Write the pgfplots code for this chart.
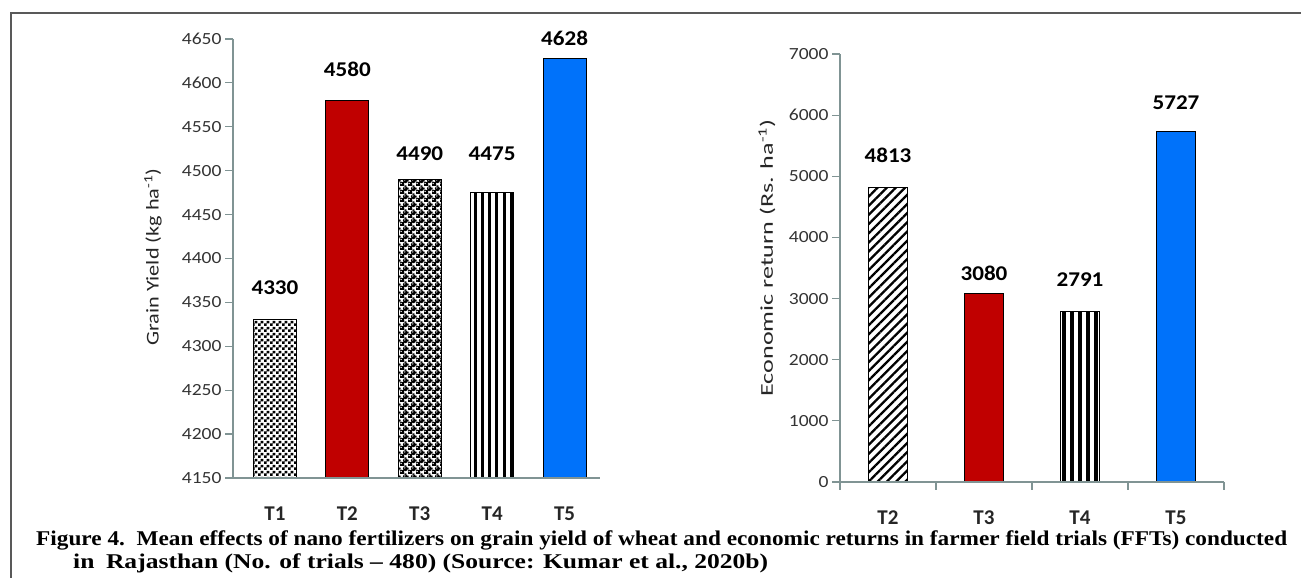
\documentclass[border=0pt]{standalone}
\usepackage{pgfplots}
\pgfplotsset{compat=1.18}
\usepackage{graphicx}
\usepackage{fontspec}
\setmainfont{Carlito}
\newfontfamily\capfont{Liberation Serif}
\usetikzlibrary{patterns,patterns.meta}

\definecolor{axgray}{RGB}{128,148,148}
\definecolor{barred}{RGB}{192,0,0}
\definecolor{barblue}{RGB}{0,114,250}

% small checks (T1)
\pgfdeclarepatternformonly{checks}{\pgfqpoint{0bp}{0bp}}{\pgfqpoint{6bp}{6bp}}{\pgfqpoint{6bp}{6bp}}{%
  \pgfpathrectangle{\pgfqpoint{0bp}{0bp}}{\pgfqpoint{3.05bp}{3.05bp}}%
  \pgfpathrectangle{\pgfqpoint{3bp}{3bp}}{\pgfqpoint{3.05bp}{3.05bp}}%
  \pgfusepath{fill}}
% spheres (T3)
\pgfdeclarepatternformonly{spheres}{\pgfqpoint{0bp}{0bp}}{\pgfqpoint{8bp}{8bp}}{\pgfqpoint{8bp}{8bp}}{%
  \pgfpathcircle{\pgfqpoint{2bp}{2bp}}{2.8bp}%
  \pgfpathcircle{\pgfqpoint{6bp}{6bp}}{2.8bp}%
  \pgfpathcircle{\pgfqpoint{-2bp}{6bp}}{2.8bp}%
  \pgfpathcircle{\pgfqpoint{6bp}{-2bp}}{2.8bp}%
  \pgfusepath{fill}}
\pgfdeclarepatternformonly{shine}{\pgfqpoint{0bp}{0bp}}{\pgfqpoint{8bp}{8bp}}{\pgfqpoint{8bp}{8bp}}{%
  \pgfpathcircle{\pgfqpoint{1.3bp}{2.8bp}}{0.8bp}%
  \pgfpathcircle{\pgfqpoint{5.3bp}{6.8bp}}{0.8bp}%
  \pgfusepath{fill}}

\pgfplotsset{
  barlab/.style={
    nodes near coords={\scalebox{1.1}[1]{\bfseries\pgfmathprintnumber[assume math mode=true,1000 sep={}]{\pgfplotspointmeta}}},
    nodes near coords style={anchor=base, yshift=#1bp, inner sep=0pt,
      font=\fontsize{21bp}{21bp}\selectfont, text=black},
  },
  mybar/.style={draw=black, line width=1bp, bar shift=0pt},
  chart/.style={
    scale only axis, anchor=south west,
    ybar, bar shift=0pt,
    axis x line*=bottom, axis y line*=left,
    axis line style={axgray, line width=1.2bp, -},
    tick align=outside, major tick length=8bp, minor tick length=8bp,
    major x tick style={draw=none},
    y tick style={axgray, line width=1.2bp},
    yticklabel style={font=\fontsize{17bp}{17bp}\selectfont, text=black!80,
      /pgf/number format/assume math mode=true, /pgf/number format/1000 sep={}},
    yticklabel={\scalebox{1.15}[1]{\pgfmathprintnumber{\tick}}},
    xticklabel style={font=\bfseries\fontsize{21bp}{21bp}\selectfont, text=black!85,
      anchor=base, yshift=-34bp},
    axis on top,
  },
}

\begin{document}
\begin{tikzpicture}
\useasboundingbox (0,0) rectangle (1301bp,578bp);

% frame of the page
\draw[black!65, line width=1.2bp] (11bp,0bp) -- (11bp,565bp) -- (1301bp,565bp);

% left: grain yield
\begin{axis}[chart,
  at={(233bp,100bp)}, width=367bp, height=439bp,
  bar width=43bp,
  xmin=0.42, xmax=5.49, ymin=4150, ymax=4650, ytick distance=50,
  xtick={1,2,3,4,5}, xticklabels={T1,T2,T3,T4,T5},
]
\addplot[mybar, pattern=checks, barlab=25] coordinates {(1,4330)};
\addplot[mybar, fill=barred, barlab=24] coordinates {(2,4580)};
\addplot[mybar, pattern=spheres, postaction={pattern=shine, pattern color=white}, barlab=19] coordinates {(3,4490)};
\addplot[mybar, pattern={Lines[angle=90, distance=7.2bp, line width=3bp]}, barlab=32] coordinates {(4,4475)};
\addplot[mybar, fill=barblue, barlab=13] coordinates {(5,4628)};
\end{axis}

% right: economic return
\begin{axis}[chart,
  at={(840bp,96bp)}, width=384bp, height=428bp,
  bar width=39bp,
  xmin=0.5, xmax=4.5, ymin=0, ymax=7000, ytick distance=1000,
  xtick={1,2,3,4}, xticklabels={T2,T3,T4,T5},
  minor xtick={0.5,1.5,2.5,3.5,4.5},
  minor x tick style={axgray, line width=1.2bp},
]
\addplot[mybar, pattern={Lines[angle=45, distance=6.5bp, line width=2.3bp]}, barlab=25] coordinates {(1,4813)};
\addplot[mybar, fill=barred, barlab=13] coordinates {(2,3080)};
\addplot[mybar, pattern={Lines[angle=90, distance=8bp, line width=3.2bp]}, barlab=25] coordinates {(3,2791)};
\addplot[mybar, fill=barblue, barlab=22] coordinates {(4,5727)};
\end{axis}

% axis titles
\node[rotate=90, anchor=center, inner sep=0, text=black!85] at (153bp,321bp)
  {\resizebox{177bp}{\height}{\fontsize{18bp}{18bp}\selectfont Grain Yield (kg ha\textsuperscript{-1})}};
\node[rotate=90, anchor=center, inner sep=0, text=black!85] at (767bp,320bp)
  {\resizebox{277bp}{\height}{\fontsize{18bp}{18bp}\selectfont Economic return (Rs. ha\textsuperscript{-1})}};

% caption
\node[anchor=base west, inner sep=0] at (36bp,33bp)
  {\resizebox{1251bp}{\height}{\capfont\bfseries\fontsize{21bp}{21bp}\selectfont Figure 4.\hspace{0.5em}Mean effects of nano fertilizers on grain yield of wheat and economic returns in farmer field trials (FFTs) conducted}};
\node[anchor=base west, inner sep=0] at (73bp,10bp)
  {\resizebox{695bp}{\height}{\capfont\bfseries\fontsize{21bp}{21bp}\selectfont in\hspace{0.45em}Rajasthan (No. of trials – 480) (Source: Kumar et al., 2020b)}};
\end{tikzpicture}
\end{document}
